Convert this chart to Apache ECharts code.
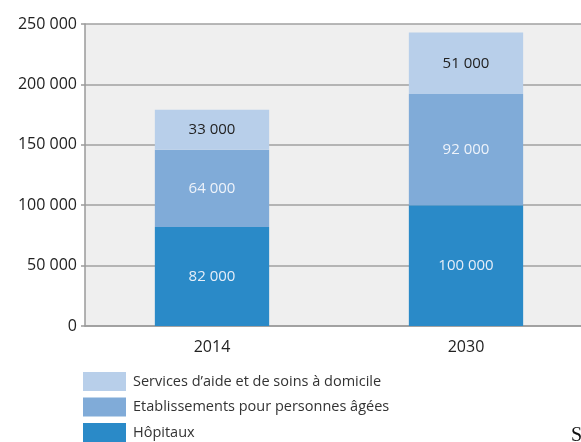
<!DOCTYPE html>
<html><head><meta charset="utf-8">
<script src="https://cdn.jsdelivr.net/npm/echarts@6/dist/echarts.min.js"></script>
<style>html,body{margin:0;padding:0;background:#fff;overflow:hidden;width:581px;height:442px}#c{width:593px;height:442px}</style>
</head><body><div id="c"></div>
<script>
const categories = ['2014', '2030'];
const hopitaux = [82000, 100000];
const etablissements = [64000, 92000];
const services = [33000, 51000];
const yTicks = [0, 50000, 100000, 150000, 200000, 250000];
const seriesNames = ['Hôpitaux', 'Etablissements pour personnes âgées', "Services d’aide et de soins à domicile"];

const fmt = v => String(v).replace(/\B(?=(\d{3})+(?!\d))/g, ' ');
const font = '"Open Sans", "Noto Sans", sans-serif';
const chart = echarts.init(document.getElementById('c'), null, {renderer: 'canvas'});
const mk = (name, data, color, labelColor) => ({
  name, type: 'bar', stack: 'a', data, barWidth: '45%',
  itemStyle: {color},
  label: {show: true, position: 'inside', formatter: p => fmt(p.value), color: labelColor, fontSize: 15, fontFamily: font}
});
chart.setOption({
  animation: false,
  grid: {left: 85, right: 0, top: 24, height: 302, show: true, backgroundColor: '#efefef', borderWidth: 0},
  xAxis: {type: 'category', data: categories,
    axisLine: {show: true, lineStyle: {color: '#9a9a9a', width: 1.5}},
    axisTick: {show: false},
    axisLabel: {color: '#222', fontSize: 16, fontFamily: font, margin: 13}},
  yAxis: {type: 'value', min: yTicks[0], max: yTicks[yTicks.length-1], interval: 50000,
    axisLine: {show: true, lineStyle: {color: '#9a9a9a', width: 1.5}},
    axisTick: {show: true, length: 4, lineStyle: {color: '#9a9a9a', width: 1.5}},
    splitLine: {lineStyle: {color: '#a0a0a0', width: 1.5}},
    axisLabel: {formatter: v => fmt(v), color: '#222', fontSize: 16, fontFamily: font, margin: 8}},
  legend: {orient: 'vertical', left: 83, top: 372, height: 90, itemWidth: 43, itemHeight: 19, itemGap: 6.5,
    data: [seriesNames[2], seriesNames[1], seriesNames[0]],
    icon: 'rect', padding: 0,
    textStyle: {color: '#333', fontSize: 14.5, fontFamily: font, padding: [0, 0, 0, 2]}},
  graphic: [{type: 'text', left: 571, top: 426, style: {text: 'Source', font: '20px "Liberation Serif", serif', fill: '#111'}}],
  series: [
    mk(seriesNames[0], hopitaux, '#2a8ac8', '#e6eef8'),
    mk(seriesNames[1], etablissements, '#80abd8', '#eef3fa'),
    mk(seriesNames[2], services, '#b8cfea', '#222')
  ]
});
</script></body></html>
